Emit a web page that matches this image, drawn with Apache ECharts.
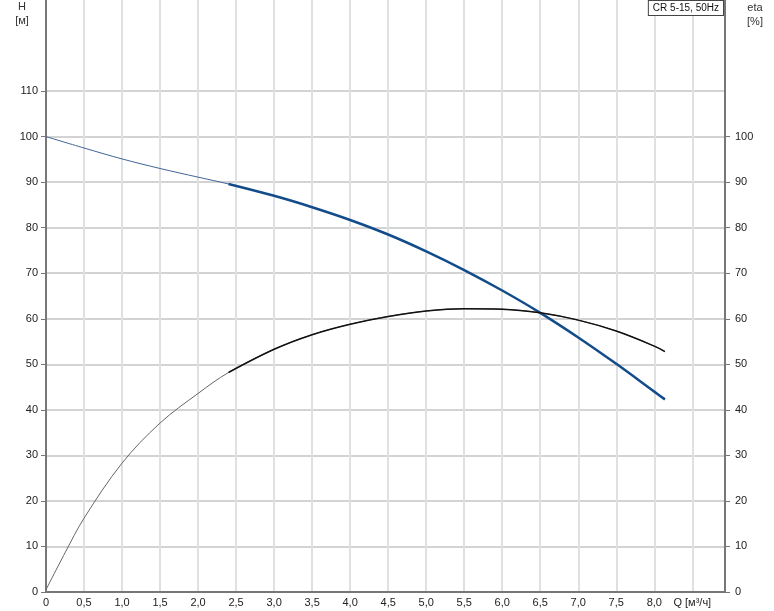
<!DOCTYPE html>
<html>
<head>
<meta charset="utf-8">
<script src="https://cdn.jsdelivr.net/npm/echarts@6/dist/echarts.min.js"></script>
<style>
html, body { margin: 0; padding: 0; background: #fff; }
#chart { width: 774px; height: 611px; }
</style>
</head>
<body>
<div id="chart"></div>
<script>
// Q [m3/h] and readings from the curve
const qHead = [0, 0.5, 1.0, 1.5, 2.0, 2.4, 3.0, 3.5, 4.0, 4.5, 5.0, 5.5, 6.0, 6.5, 7.0, 7.5, 8.0, 8.14];
const head = [100, 97.5, 95.1, 93.0, 91.1, 89.6, 87.0, 84.5, 81.7, 78.5, 74.8, 70.7, 66.2, 61.3, 55.9, 50.1, 44.0, 42.3];
const qEta = [0, 0.25, 0.5, 1.0, 1.5, 2.0, 2.4, 3.0, 3.5, 4.0, 4.5, 5.0, 5.5, 6.0, 6.5, 7.0, 7.5, 8.0, 8.14];
const eta = [0.5, 8.6, 16.2, 28.3, 37.1, 43.6, 48.2, 53.3, 56.5, 58.8, 60.5, 61.7, 62.2, 62.1, 61.3, 59.7, 57.3, 54.0, 52.8];
const splitQ = 2.4; // thin part before, thick part after
const leftTicks = [0, 10, 20, 30, 40, 50, 60, 70, 80, 90, 100, 110];
const rightTicks = [0, 10, 20, 30, 40, 50, 60, 70, 80, 90, 100];
const title = 'CR 5-15, 50Hz';

function pairs(xs, ys, from, to) {
    const out = [];
    xs.forEach((x, i) => { if (x >= from && x <= to) out.push([x, ys[i]]); });
    return out;
}

const myChart = echarts.init(document.getElementById('chart'));
const font = 'Liberation Sans, Arial, sans-serif';
const txt = '#222';

const option = {
    animation: false,
    textStyle: { fontFamily: font },
    grid: { left: 46, right: 49, top: 0, bottom: 19 },
    graphic: [
        { type: 'text', x: 22, y: 0, style: { text: 'H\n[м]', fill: '#333', font: '11px ' + font, align: 'center', lineHeight: 14 } },
        { type: 'text', x: 755, y: 1, style: { text: 'eta\n[%]', fill: '#333', font: '11px ' + font, align: 'center', lineHeight: 14 } },
        { type: 'text', right: 50, top: 0, z: 10, style: { text: title, fill: '#111', font: '10px ' + font, backgroundColor: '#fff', borderColor: '#444', borderWidth: 1, padding: [2, 4, 2, 4] } }
    ],
    xAxis: {
        type: 'value', min: 0, max: 8.93, interval: 0.5,
        axisLine: { onZero: false, lineStyle: { color: '#777', width: 2 } },
        axisTick: { show: false },
        axisLabel: {
            color: txt, fontSize: 11, margin: 5, showMaxLabel: false,
            formatter: v => {
                if (Math.abs(v - 8.5) < 1e-6) return 'Q [м³/ч]';
                if (Math.abs(v * 2 - Math.round(v * 2)) > 1e-6) return '';
                return v === 0 ? '0' : v.toFixed(1).replace('.', ',');
            }
        },
        splitLine: { show: true, lineStyle: { color: '#dde1e1', width: 2 } }
    },
    yAxis: [
        {
            type: 'value', min: 0, max: 130, interval: 10, position: 'left',
            axisLine: { show: true, lineStyle: { color: '#777', width: 2 } },
            axisTick: { show: true, length: 5, customValues: leftTicks, lineStyle: { color: '#777' } },
            axisLabel: { color: txt, fontSize: 11, margin: 8, customValues: leftTicks },
            splitLine: { show: true, lineStyle: { color: '#d3d3d3', width: 2 } }
        },
        {
            type: 'value', min: 0, max: 130, interval: 10, position: 'right',
            axisLine: { show: true, lineStyle: { color: '#777', width: 2 } },
            axisTick: { show: true, length: 5, customValues: rightTicks, lineStyle: { color: '#777' } },
            axisLabel: { color: txt, fontSize: 11, margin: 10, customValues: rightTicks },
            splitLine: { show: false }
        }
    ],
    series: [
        {
            // whole curve thin, thick part drawn over it
            name: 'H thin', type: 'line', smooth: 0.35, showSymbol: false,
            data: pairs(qHead, head, 0, 9),
            lineStyle: { color: '#3f6496', width: 1 }
        },
        {
            name: 'H', type: 'line', smooth: 0.35, showSymbol: false,
            data: pairs(qHead, head, splitQ, 9),
            lineStyle: { color: '#134c8a', width: 2.5 }
        },
        {
            name: 'eta thin', type: 'line', yAxisIndex: 1, smooth: 0.35, showSymbol: false,
            data: pairs(qEta, eta, 0, 9),
            lineStyle: { color: '#666', width: 1 }
        },
        {
            name: 'eta', type: 'line', yAxisIndex: 1, smooth: 0.35, showSymbol: false,
            data: pairs(qEta, eta, splitQ, 9),
            lineStyle: { color: '#111', width: 1.5 }
        }
    ]
};

myChart.setOption(option);
window.addEventListener('resize', () => { myChart.resize(); });
</script>
</body>
</html>
